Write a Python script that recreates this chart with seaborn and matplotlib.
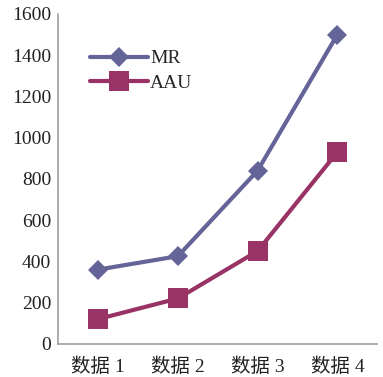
import matplotlib
matplotlib.use("Agg")
import matplotlib.pyplot as plt
import seaborn as sns
import pandas as pd

categories = ["数据 1", "数据 2", "数据 3", "数据 4"]
mr_values = [360, 425, 840, 1500]
aau_values = [120, 220, 450, 930]
y_ticks = [0, 200, 400, 600, 800, 1000, 1200, 1400, 1600]

sns.set_theme(style="white")
plt.rcParams["font.family"] = ["Liberation Serif", "Noto Sans CJK SC"]

df = pd.DataFrame({
    "category": categories * 2,
    "value": mr_values + aau_values,
    "series": ["MR"] * 4 + ["AAU"] * 4,
})

fig, ax = plt.subplots(figsize=(3.83, 3.77), dpi=100)
fig.subplots_adjust(left=0.152, right=0.985, bottom=0.088, top=0.963)

palette = {"MR": "#646499", "AAU": "#993366"}
markers = {"MR": "D", "AAU": "s"}
sizes = {"MR": 10, "AAU": 14}
for name in ["MR", "AAU"]:
    sub = df[df["series"] == name]
    sns.lineplot(data=sub, x="category", y="value", ax=ax, color=palette[name],
                 marker=markers[name], markersize=sizes[name], markeredgewidth=0,
                 linewidth=3, label=name, sort=False)

ax.set_xlim(-0.5, 3.5)
ax.set_ylim(0, 1600)
ax.set_yticks(y_ticks)
ax.set_xlabel("")
ax.set_ylabel("")
ax.tick_params(axis="both", labelsize=14, length=0, pad=5, colors="#222222")
ax.tick_params(axis="x", pad=10)
for s in ["top", "right"]:
    ax.spines[s].set_visible(False)
for s in ["left", "bottom"]:
    ax.spines[s].set_color("#a0a0a0")
    ax.spines[s].set_linewidth(1.2)

leg = ax.legend(loc="upper left", bbox_to_anchor=(0.075, 0.915), frameon=False,
                fontsize=14, handlelength=3.0, handletextpad=0.1,
                labelspacing=0.35, borderaxespad=0)

fig.savefig("out.png", dpi=100, facecolor="white")
